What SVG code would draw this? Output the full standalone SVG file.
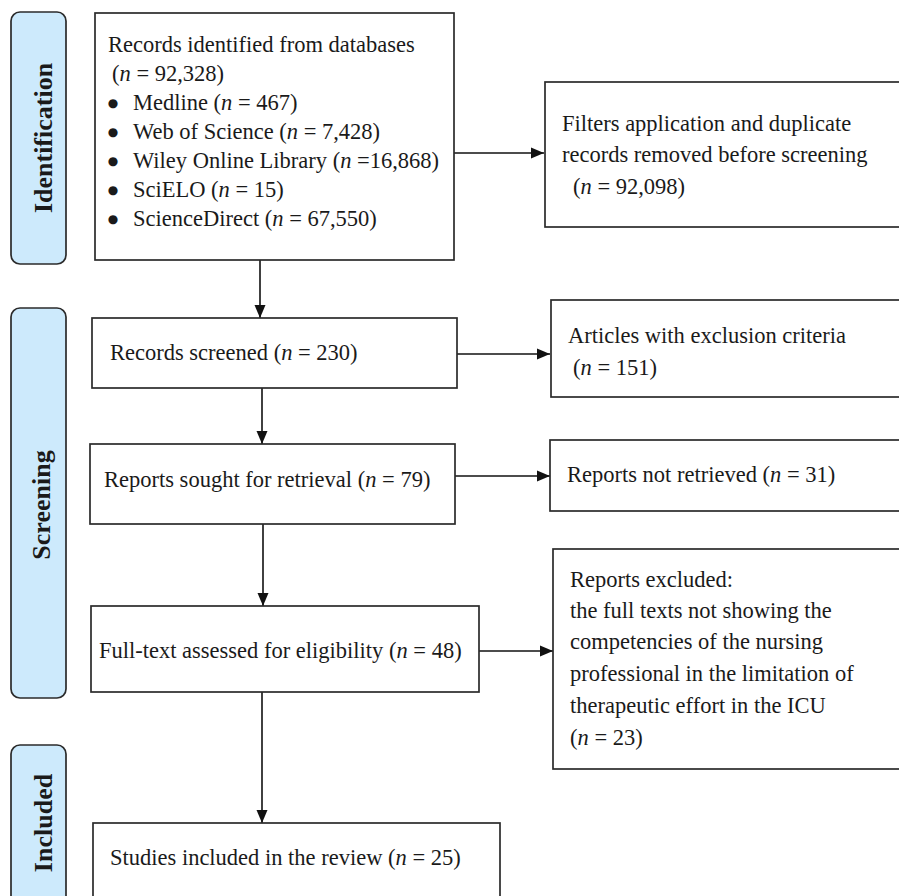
<svg xmlns="http://www.w3.org/2000/svg" width="899" height="896" viewBox="0 0 899 896">
<defs>
<style>
.box{fill:#fff;stroke:#2b2b2b;stroke-width:1.7}
.pill{fill:#cdeafc;stroke:#2b2b2b;stroke-width:1.7}
.t{font-family:"Liberation Serif","Times New Roman",serif;font-size:22.5px;fill:#1a1a1a}
.b{font-family:"DejaVu Sans",sans-serif;font-size:12px;fill:#1a1a1a;text-anchor:middle}
.lab{font-family:"Liberation Serif","Times New Roman",serif;font-size:26px;font-weight:bold;fill:#1a1a1a;text-anchor:middle}
.c{stroke:#111;stroke-width:1.6;fill:none}
.i{font-style:italic}
</style>
<marker id="ah" viewBox="0 0 13 12" refX="13" refY="6" markerWidth="13" markerHeight="12" markerUnits="userSpaceOnUse" orient="auto">
<path d="M0,0.5 L13,6 L0,11.5 z" fill="#111"/>
</marker>
</defs>
<rect width="899" height="896" fill="#fff"/>

<g id="phase-identification">
<rect class="pill" x="11" y="12" width="55" height="252" rx="9"/>
<text class="lab" transform="translate(52,138) rotate(-90)">Identification</text>
</g>
<g id="phase-screening">
<rect class="pill" x="11" y="308" width="55" height="390" rx="9"/>
<text class="lab" transform="translate(50,505) rotate(-90)">Screening</text>
</g>
<g id="phase-included">
<rect class="pill" x="11" y="745" width="55" height="170" rx="9"/>
<text class="lab" transform="translate(52,823) rotate(-90)">Included</text>
</g>

<g id="connectors">
<line class="c" x1="454" y1="153" x2="544" y2="153" marker-end="url(#ah)"/>
<line class="c" x1="260" y1="260" x2="260" y2="318" marker-end="url(#ah)"/>
<line class="c" x1="457" y1="354" x2="550" y2="354" marker-end="url(#ah)"/>
<line class="c" x1="262" y1="388" x2="262" y2="444" marker-end="url(#ah)"/>
<line class="c" x1="455" y1="476" x2="550" y2="476" marker-end="url(#ah)"/>
<line class="c" x1="263" y1="524" x2="263" y2="606" marker-end="url(#ah)"/>
<line class="c" x1="479" y1="651" x2="553" y2="651" marker-end="url(#ah)"/>
<line class="c" x1="262" y1="692" x2="262" y2="823" marker-end="url(#ah)"/>
</g>

<g id="records-identified">
<rect class="box" x="95" y="13" width="359" height="247"/>
<text class="t" x="108" y="52">Records identified from databases</text>
<text class="t" x="112" y="81">(<tspan class="i">n</tspan> = 92,328)</text>
<text class="b" x="113" y="107">●</text>
<text class="t" x="133" y="110">Medline (<tspan class="i">n</tspan> = 467)</text>
<text class="b" x="113" y="136">●</text>
<text class="t" x="133" y="139">Web of Science (<tspan class="i">n</tspan> = 7,428)</text>
<text class="b" x="113" y="165">●</text>
<text class="t" x="133" y="168">Wiley Online Library (<tspan class="i">n</tspan> =16,868)</text>
<text class="b" x="113" y="194">●</text>
<text class="t" x="133" y="197">SciELO (<tspan class="i">n</tspan> = 15)</text>
<text class="b" x="113" y="223">●</text>
<text class="t" x="133" y="226">ScienceDirect (<tspan class="i">n</tspan> = 67,550)</text>
</g>

<g id="removed-before-screening">
<rect class="box" x="545" y="82" width="365" height="145"/>
<text class="t" x="562" y="131">Filters application and duplicate</text>
<text class="t" x="562" y="162">records removed before screening</text>
<text class="t" x="573" y="194">(<tspan class="i">n</tspan> = 92,098)</text>
</g>

<g id="records-screened">
<rect class="box" x="92" y="318" width="365" height="70"/>
<text class="t" x="110" y="360">Records screened (<tspan class="i">n</tspan> = 230)</text>
</g>

<g id="articles-excluded">
<rect class="box" x="551" y="300" width="360" height="97"/>
<text class="t" x="568" y="343">Articles with exclusion criteria</text>
<text class="t" x="573" y="375">(<tspan class="i">n</tspan> = 151)</text>
</g>

<g id="reports-sought">
<rect class="box" x="90" y="444" width="365" height="80"/>
<text class="t" x="104" y="487">Reports sought for retrieval (<tspan class="i">n</tspan> = 79)</text>
</g>

<g id="reports-not-retrieved">
<rect class="box" x="550" y="440" width="360" height="71"/>
<text class="t" x="567" y="482">Reports not retrieved (<tspan class="i">n</tspan> = 31)</text>
</g>

<g id="full-text-assessed">
<rect class="box" x="91" y="606" width="388" height="86"/>
<text class="t" x="99" y="658">Full-text assessed for eligibility (<tspan class="i">n</tspan> = 48)</text>
</g>

<g id="reports-excluded">
<rect class="box" x="553" y="549" width="360" height="220"/>
<text class="t" x="570" y="587">Reports excluded:</text>
<text class="t" x="570" y="618">the full texts not showing the</text>
<text class="t" x="570" y="649">competencies of the nursing</text>
<text class="t" x="570" y="681">professional in the limitation of</text>
<text class="t" x="570" y="713">therapeutic effort in the ICU</text>
<text class="t" x="570" y="745">(<tspan class="i">n</tspan> = 23)</text>
</g>

<g id="studies-included">
<rect class="box" x="93" y="823" width="407" height="90"/>
<text class="t" x="110" y="865">Studies included in the review (<tspan class="i">n</tspan> = 25)</text>
</g>
</svg>
